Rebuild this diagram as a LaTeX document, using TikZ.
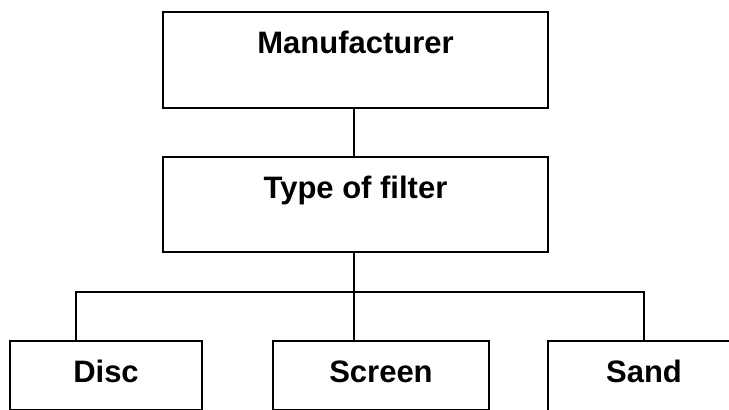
\documentclass[tikz,border=0pt]{standalone}
\usepackage{fontspec}
\setmainfont{Liberation Sans}
\usepackage{tikz}
\usetikzlibrary{positioning, calc}

\begin{document}
\begin{tikzpicture}[
    x=1pt, y=-1pt,
    box/.style={rectangle, draw=black, line width=1.6pt, inner xsep=0pt, inner ysep=0pt, text height=42pt, font=\bfseries\fontsize{31}{36}\selectfont, anchor=north},
    link/.style={line width=1.4pt}
]

% frame of the picture
\useasboundingbox (0,0) rectangle (729,410);
\clip (0,0) rectangle (729,410);

% Upper levels
\node[box, minimum width=385pt, text depth=54pt] (manu) at (355.5,11) {Manufacturer};
\node[box, minimum width=385pt, text depth=53pt] (type) at (355.5,156) {Type of filter};

% Filter kinds
\node[box, minimum width=192pt, text depth=27pt] (disc) at (106,340) {Disc};
\node[box, minimum width=216pt, text depth=27pt] (screen) at (381,340) {Screen};
\node[box, minimum width=192pt, text depth=31pt] (sand) at (644,340) {Sand};

% Connections
\coordinate (busL) at (76,292);
\coordinate (busR) at (644,292);
\draw[link] ([xshift=-1.5pt]manu.south) -- ([xshift=-1.5pt]type.north);
\draw[link] ([xshift=-1.5pt]type.south) -- ([xshift=-1.5pt]type.south |- screen.north);
\draw[link] (disc.north -| busL) -- (busL) -- (busR) -- (sand.north);

\end{tikzpicture}
\end{document}
